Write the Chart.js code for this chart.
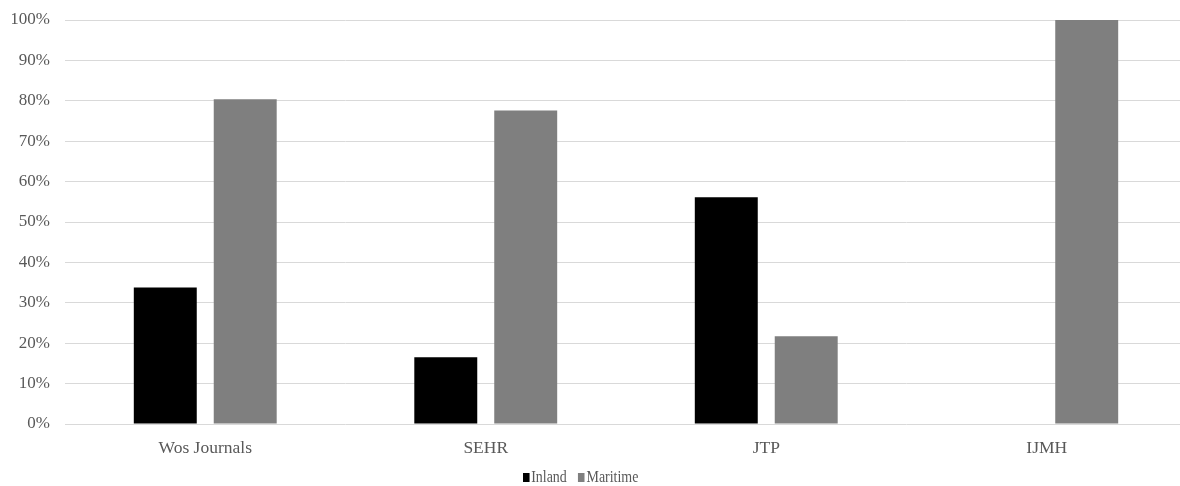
<!DOCTYPE html>
<html>
<head>
<meta charset="utf-8">
<script src="https://cdn.jsdelivr.net/npm/chart.js@4"></script>
<style>
  html, body { margin: 0; padding: 0; background: #fff; overflow: hidden; }
  #wrap { position: relative; width: 1188px; height: 486px; }
  #legend { position: absolute; left: 523px; top: 467px; font: 17px "Liberation Serif", serif; color: #595959; white-space: nowrap; transform: scaleX(0.82); transform-origin: left top; }
  #legend span.box { display: inline-block; width: 8px; height: 9px; margin-right: 2px; vertical-align: 0px; }
  #legend span.item { margin-right: 14px; }
</style>
</head>
<body>
<div id="wrap">
  <canvas id="chart"></canvas>
  <div id="legend"></div>
</div>
<script>
const categories = ['Wos Journals', 'SEHR', 'JTP', 'IJMH'];
const inlandValues = [33.8, 16.5, 56.1, 0];
const maritimeValues = [80.4, 77.6, 21.7, 100];
const seriesNames = ['Inland', 'Maritime'];
const seriesColors = ['#000000', '#7f7f7f'];
const yTicks = [0, 10, 20, 30, 40, 50, 60, 70, 80, 90, 100];

const textColor = '#595959';
const fontFamily = '"Liberation Serif", "Times New Roman", serif';

new Chart(document.getElementById('chart'), {
    type: 'bar',
    data: {
        labels: categories,
        datasets: [
            { label: seriesNames[0], data: inlandValues, backgroundColor: seriesColors[0] },
            { label: seriesNames[1], data: maritimeValues, backgroundColor: seriesColors[1] }
        ]
    },
    options: {
        responsive: true,
        maintainAspectRatio: false,
        animation: false,
        layout: { padding: { left: 12, right: 1, top: 20, bottom: 0 } },
        datasets: { bar: { categoryPercentage: 0.57, barPercentage: 0.7875 } },
        plugins: { legend: { display: false }, tooltip: { enabled: false } },
        scales: {
            x: {
                grid: { display: false },
                border: { display: false },
                ticks: { color: textColor, font: { family: fontFamily, size: 17.5 }, padding: 6, maxRotation: 0 },
                afterFit: s => { s.height = 62; s.paddingLeft = 0; s.paddingRight = 0; }
            },
            y: {
                min: 0,
                max: 100,
                afterBuildTicks: s => { s.ticks = yTicks.map(v => ({ value: v })); },
                grid: { color: '#d9d9d9', lineWidth: 1, drawTicks: false },
                border: { display: false },
                ticks: { color: textColor, font: { family: fontFamily, size: 17 }, padding: 15, callback: v => v + '%' },
                afterFit: s => { s.width = 53; s.paddingTop = 0; s.paddingBottom = 0; }
            }
        }
    }
});

const legend = document.getElementById('legend');
seriesNames.forEach((name, i) => {
    legend.innerHTML += '<span class="item"><span class="box" style="background:' + seriesColors[i] + '"></span>' + name + '</span>';
});
</script>
</body>
</html>
